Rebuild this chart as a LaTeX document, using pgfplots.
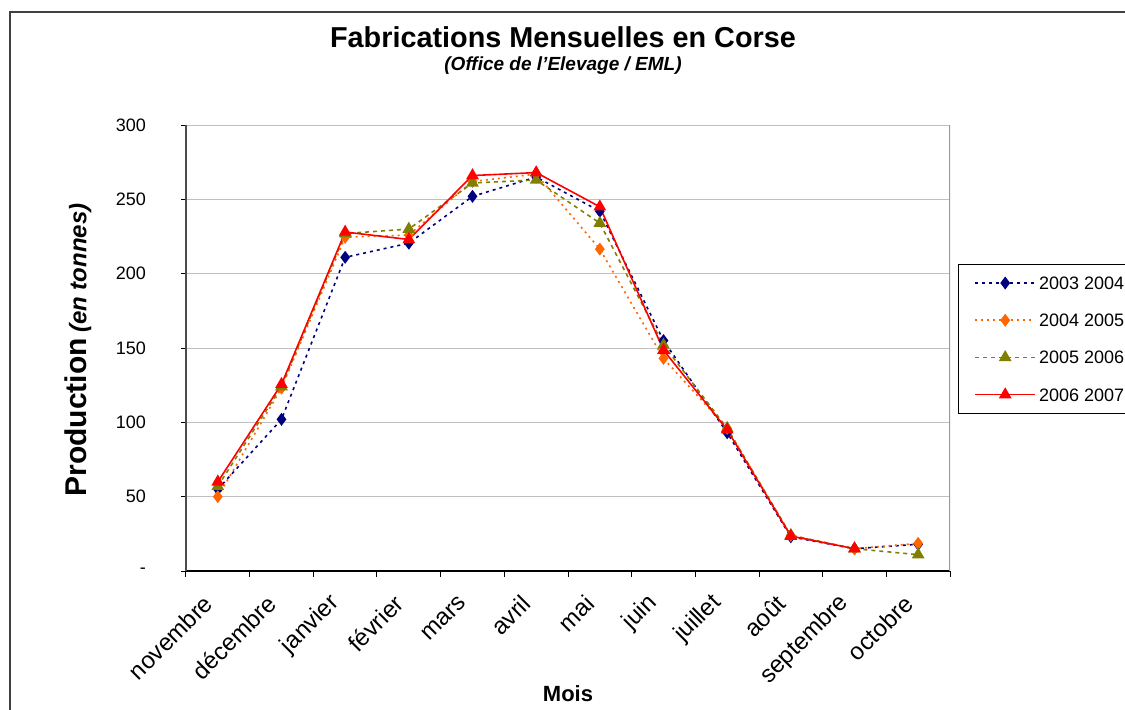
\documentclass[border=0pt]{standalone}
\usepackage{fontspec}
\setmainfont{Liberation Sans}
\usepackage{pgfplots}
\pgfplotsset{compat=1.18}
\definecolor{cnavy}{HTML}{000080}
\definecolor{corange}{HTML}{FF6600}
\definecolor{colive}{HTML}{808000}
\definecolor{cred}{HTML}{FF0000}
\definecolor{cgrid}{HTML}{C0C0C0}
\begin{document}
\begin{tikzpicture}
\useasboundingbox (-93pt,-69pt) rectangle (469.5pt,285.5pt);
\clip (-93pt,-69pt) rectangle (469.5pt,285.5pt);
\draw[line width=0.8pt, black!75] (-88pt,-90pt) -- (-88pt,279.5pt) -- (500pt,279.5pt);
\node[font=\bfseries\fontsize{14.4}{16}\selectfont] at (188.5pt,267pt) {Fabrications Mensuelles en Corse};
\node[font=\bfseries\itshape\fontsize{9.5}{11}\selectfont] at (188.5pt,252.5pt) {(Office de l'Elevage / EML)};
\begin{axis}[
  scale only axis, width=382pt, height=223pt,
  xmin=-0.5, xmax=11.5, ymin=0, ymax=300,
  axis x line*=bottom, axis y line*=left,
  x axis line style={black, line width=0.6pt, -},
  y axis line style={black!70, line width=0.9pt, -},
  xtick={0,...,11},
  xticklabels={novembre,décembre,janvier,février,mars,avril,mai,juin,juillet,août,septembre,octobre},
  major x tick style={draw=none},
  minor xtick={-0.5,0.5,...,11.5},
  minor x tick style={black, line width=0.5pt},
  minor tick length=3pt,
  tick align=outside,
  ytick={0,50,...,300},
  yticklabels={-,50,100,150,200,250,300},
  major tick length=2.5pt,
  y tick style={black, line width=0.5pt},
  ymajorgrids, grid style={cgrid, line width=0.5pt},
  /pgf/number format/assume math mode=true,
  yticklabel style={font=\fontsize{9}{10}\selectfont, anchor=east, xshift=-14pt},
  xticklabel style={font=\fontsize{12}{13}\selectfont, xshift=-4pt, yshift=-11pt, rotate=45, anchor=east, inner sep=1pt},
  xlabel={Mois},
  every axis x label/.style={at={(axis description cs:0.5,-0.274)}, anchor=center, font=\bfseries\fontsize{11}{12}\selectfont},
  ylabel={{\fontsize{15}{16}\selectfont Production} {\itshape\fontsize{12}{13}\selectfont (en tonnes)}},
  every axis y label/.style={at={(axis description cs:-0.1414,0.4955)}, rotate=90, anchor=center, font=\bfseries},
  legend cell align=left,
  legend image code/.code={\draw[mark repeat=2,mark phase=2] plot coordinates {(0pt,0pt) (15pt,0pt) (30pt,0pt)};},
  legend style={at={(1.0105,0.688)}, anchor=north west, draw=black,
    font=\fontsize{9}{10}\selectfont, inner xsep=8pt, inner ysep=4.5pt, row sep=9.1pt,
    nodes={inner sep=1.5pt, text height=6.5pt, text depth=0pt}},
]
\draw[cgrid!80!black, line width=0.6pt] (rel axis cs:1,0) -- (rel axis cs:1,1);
\addplot[cnavy, line width=0.8pt, dash pattern=on 1.5pt off 2pt, mark=diamond*, mark size=2.6pt, mark options={solid, fill=cnavy}]
  coordinates {(0,55) (1,102) (2,211) (3,220.5) (4,252) (5,265) (6,242) (7,155) (8,93) (9,23) (10,15) (11,18)};
\addlegendentry{2003 2004}
\addplot[corange, line width=0.8pt, dash pattern=on 1pt off 2pt, mark=diamond*, mark size=2.6pt, mark options={solid, fill=corange}]
  coordinates {(0,50) (1,123) (2,224.5) (3,226) (4,262) (5,267) (6,216.5) (7,143) (8,96) (9,24) (10,15) (11,18.6)};
\addlegendentry{2004 2005}
\addplot[colive, line width=0.8pt, dash pattern=on 2pt off 2pt, mark=triangle*, mark size=2.9pt, mark options={solid, fill=colive}]
  coordinates {(0,57) (1,124) (2,227) (3,230) (4,261) (5,263) (6,234) (7,152) (8,96) (9,24) (10,15) (11,11)};
\addlegendentry{2005 2006}
\addplot[cred, line width=0.8pt, mark=triangle*, mark size=2.9pt, mark options={solid, fill=cred}]
  coordinates {(0,60) (1,125.6) (2,228) (3,223) (4,266) (5,268) (6,245) (7,148.6) (8,95) (9,23.5) (10,15)};
\addlegendentry{2006 2007}
\end{axis}
\end{tikzpicture}
\end{document}
